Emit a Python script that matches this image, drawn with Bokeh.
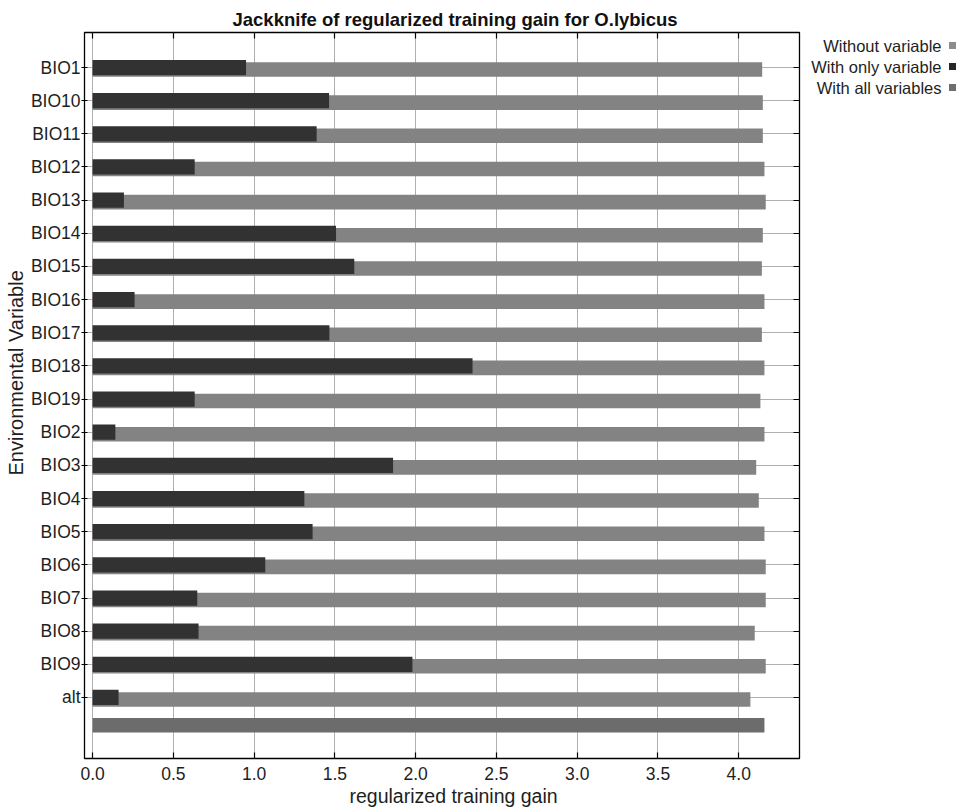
from bokeh.plotting import figure
from bokeh.models import (Range1d, FixedTicker, LinearAxis, PrintfTickFormatter,
                          CustomJSTickFormatter, ColumnDataSource, Title)
from bokeh.layouts import row
from bokeh.core.properties import value
from bokeh.embed import file_html
from bokeh.resources import INLINE

# ---- data ----
variables = ["BIO1", "BIO10", "BIO11", "BIO12", "BIO13", "BIO14", "BIO15", "BIO16",
             "BIO17", "BIO18", "BIO19", "BIO2", "BIO3", "BIO4", "BIO5", "BIO6",
             "BIO7", "BIO8", "BIO9", "alt"]
without_variable = [4.145, 4.149, 4.149, 4.159, 4.167, 4.149, 4.143, 4.159,
                    4.143, 4.159, 4.134, 4.159, 4.108, 4.124, 4.159, 4.167,
                    4.167, 4.099, 4.167, 4.072]
with_only_variable = [0.950, 1.464, 1.387, 0.632, 0.194, 1.507, 1.620, 0.260,
                      1.466, 2.352, 0.632, 0.141, 1.860, 1.311, 1.362, 1.069,
                      0.648, 0.656, 1.980, 0.161]
with_all_variables = 4.159
x_ticks = [0.0, 0.5, 1.0, 1.5, 2.0, 2.5, 3.0, 3.5, 4.0]

legend_labels = ["Without variable", "With only variable", "With all variables"]
C_WITHOUT = "#838383"
C_ONLY = "#323232"
C_ALL = "#6c6c6c"
legend_colors = ["#8c8c8c", "#262626", "#6e6e6e"]
FONT = "Liberation Sans"
TXT = "#1e1e1e"

rows = list(range(len(variables)))
all_row = len(variables) - 1 + 0.835

src = ColumnDataSource(dict(
    y=rows,
    y_grey=[r + 0.06 for r in rows],
    without=without_variable,
    only=with_only_variable,
))

FRAME_TOP, FRAME_H = 32, 726
p = figure(
    frame_width=715, frame_height=FRAME_H,
    x_range=Range1d(-0.05, 4.376), y_range=Range1d(20.84, -1.056),
    output_backend="svg", toolbar_location=None,
    min_border_left=84, min_border_top=FRAME_TOP, min_border_right=4, min_border_bottom=53,
    background_fill_color="white", border_fill_color="white",
)
p.outline_line_color = "black"
p.outline_line_width = 1.3

# title
p.title.text = "Jackknife of regularized training gain for O.lybicus"
p.title.align = "left"
p.title.offset = 148
p.title.text_font = FONT
p.title.text_font_size = "18.5px"
p.title.text_font_style = "bold"
p.title.text_color = "#111111"
p.title.standoff = 5

# bars
p.hbar(y="y_grey", left=0, right="without", height=0.44, source=src,
       fill_color=C_WITHOUT, line_color=None)
p.hbar(y="y", left=0, right="only", height=0.46, source=src,
       fill_color=C_ONLY, line_color=None)
p.hbar(y=[all_row], left=[0], right=[with_all_variables], height=0.44,
       fill_color=C_ALL, line_color=None)

# axes
xax = p.xaxis[0]
xax.ticker = FixedTicker(ticks=x_ticks)
xax.formatter = PrintfTickFormatter(format="%.1f")
yax = p.yaxis[0]
yax.ticker = FixedTicker(ticks=rows)
yax.major_label_overrides = {r: v for r, v in zip(rows, variables)}

for ax in (xax, yax):
    ax.axis_line_color = None
    ax.major_tick_line_color = "black"
    ax.major_tick_line_width = 1.2
    ax.minor_tick_line_color = None
    ax.major_label_text_font = FONT
    ax.major_label_text_font_size = "17.5px"
    ax.major_label_text_color = TXT

xax.major_tick_in = 6
xax.major_tick_out = 0
xax.major_label_standoff = 8
yax.major_tick_in = 3
yax.major_tick_out = 3
yax.major_label_standoff = 1

# axis titles (as side titles so they can sit off-centre like the reference)
p.add_layout(Title(text="regularized training gain", align="left", offset=265,
                   text_font=FONT, text_font_size="19.5px", text_font_style="normal",
                   text_color=TXT, standoff=1), "below")
p.add_layout(Title(text="Environmental Variable", align="left", offset=283,
                   text_font=FONT, text_font_size="20px", text_font_style="normal",
                   text_color=TXT, standoff=1), "left")

blank = CustomJSTickFormatter(code="return ''")
top_ax = LinearAxis(ticker=FixedTicker(ticks=x_ticks), formatter=blank,
                    axis_line_color=None, major_tick_in=6, major_tick_out=0,
                    major_tick_line_width=1.2,
                    minor_tick_line_color=None, major_label_standoff=0)
right_ax = LinearAxis(ticker=FixedTicker(ticks=rows), formatter=blank,
                      axis_line_color=None, major_tick_in=6, major_tick_out=0,
                      major_tick_line_width=1.2,
                      minor_tick_line_color=None, major_label_standoff=0)
p.add_layout(top_ax, "above")
p.add_layout(right_ax, "right")

# grids
p.xgrid.ticker = FixedTicker(ticks=x_ticks)
p.xgrid.grid_line_color = "#b0b0b0"
p.ygrid.grid_line_color = "#b0b0b0"
p.xgrid.level = "underlay"
p.ygrid.level = "underlay"

# legend panel (label to the left of its swatch, as in the reference);
# its frame is aligned with the main frame, so map it to page pixels.
LW = 155
leg = figure(width=LW, height=811, x_range=Range1d(0, LW),
             y_range=Range1d(FRAME_TOP + FRAME_H, FRAME_TOP),
             output_backend="svg", toolbar_location=None,
             min_border=0, outline_line_color=None,
             background_fill_color="white", border_fill_color="white")
leg.axis.visible = False
leg.grid.visible = False
leg_y = [45, 66, 87]
leg.text(x=[138] * 3, y=leg_y, text=legend_labels, text_align="right",
         text_baseline="middle", text_font=value(FONT), text_font_size="16.5px",
         text_color=TXT)
leg.scatter(x=[149] * 3, y=leg_y, marker="square", size=7,
            fill_color=legend_colors, line_color=None)

open("out.html", "w").write(file_html(row(p, leg), INLINE))
